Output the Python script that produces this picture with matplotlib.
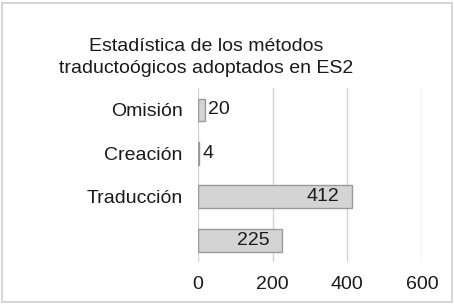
import matplotlib
matplotlib.use("Agg")
import matplotlib.pyplot as plt
from matplotlib.patches import Rectangle

categories = ["Omisión", "Creación", "Traducción", ""]
values = [20, 4, 412, 225]
xticks = [0, 200, 400, 600]
title = "Estadística de los métodos\ntraductoógicos adoptados en ES2"

plt.rcParams['font.family'] = ['Liberation Sans', 'DejaVu Sans']

fig = plt.figure(figsize=(4.54, 3.06), dpi=100)
fig.patches.append(Rectangle((0.005, 0.012), 0.99, 0.978, transform=fig.transFigure,
                             fill=False, edgecolor='#d0d0d0', linewidth=1.2))
ax = fig.add_axes([0.436, 0.144, 0.4935, 0.568])

y = list(range(len(categories)))
bars = ax.barh(y, values, height=0.52, color='#d4d4d4', edgecolor='#9a9a9a', linewidth=1.0, zorder=3)
ax.set_ylim(len(categories) - 0.5, -0.5)
ax.set_xlim(0, 600)
ax.set_yticks(y)
ax.set_yticklabels(categories, fontsize=14, color='#1a1a1a')
ax.set_xticks(xticks)
ax.set_xticklabels([str(t) for t in xticks], fontsize=14, color='#1a1a1a')
ax.tick_params(axis='both', length=0)
ax.tick_params(axis='y', pad=11)
ax.tick_params(axis='x', pad=10)
for s in ax.spines.values():
    s.set_visible(False)
ax.grid(axis='x', color='#d4d4d4', linewidth=1.0, zorder=0)

for b, v in zip(bars, values):
    cy = b.get_y() + b.get_height() / 2
    if v < 100:
        ax.annotate(str(v), (v, cy), xytext=(2, 0), textcoords='offset points',
                    ha='left', va='center', fontsize=14, color='#1a1a1a', zorder=4)
    else:
        ax.annotate(str(v), (v, cy), xytext=(-9, 0), textcoords='offset points',
                    ha='right', va='center', fontsize=14, color='#1a1a1a', zorder=4)

fig.text(0.455, 0.812, title, ha='center', va='center', fontsize=14,
         color='#1a1a1a', linespacing=1.35)

fig.savefig("out.png", dpi=100)
